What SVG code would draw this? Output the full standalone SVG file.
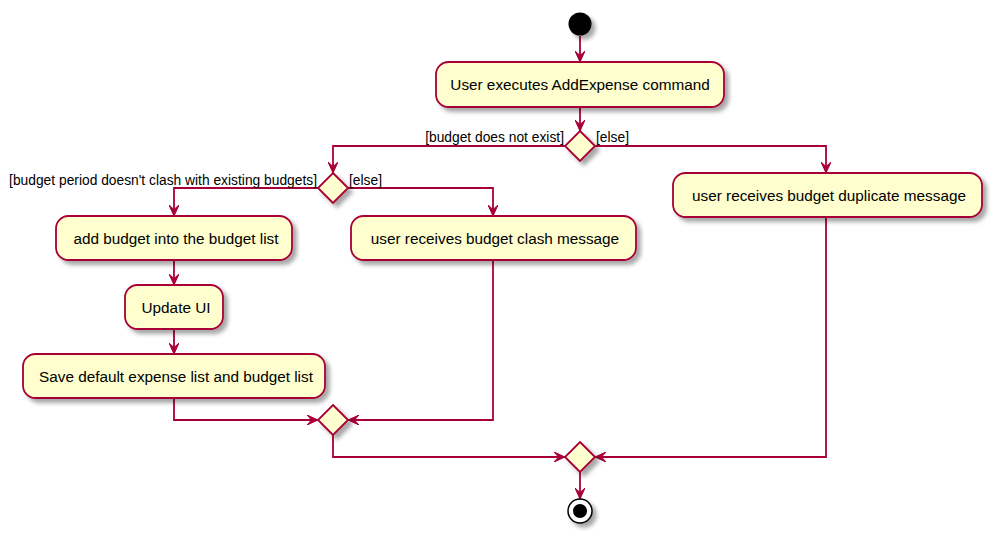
<svg xmlns="http://www.w3.org/2000/svg" width="993" height="537" viewBox="0 0 993 537">
<defs>
<filter id="sh" x="-20%" y="-20%" width="150%" height="160%">
<feGaussianBlur in="SourceAlpha" stdDeviation="2"/>
<feOffset dx="4" dy="4" result="b"/>
<feComponentTransfer><feFuncA type="linear" slope="0.35"/></feComponentTransfer>
<feMerge><feMergeNode/><feMergeNode in="SourceGraphic"/></feMerge>
</filter>
<marker id="ah" viewBox="0 0 12 10" refX="11" refY="5" markerWidth="12" markerHeight="10" markerUnits="userSpaceOnUse" orient="auto">
<polygon points="0,0 11,5 0,10 4.5,5" fill="#A80036" stroke="#A80036" stroke-width="1"/>
</marker>
</defs>
<style>
.act{fill:#FEFECE;stroke:#A80036;stroke-width:1.8;filter:url(#sh)}
.dia{fill:#FEFECE;stroke:#A80036;stroke-width:1.8;filter:url(#sh)}
.t{font-family:"Liberation Sans",Arial,sans-serif;font-size:15.3px;fill:#000;text-anchor:middle}
.c{font-family:"Liberation Sans",Arial,sans-serif;font-size:13.8px;fill:#000}
.ln{fill:none;stroke:#A80036;stroke-width:1.8}
</style>
<rect width="993" height="537" fill="#FFFFFF"/>
<g id="connectors">
<path class="ln" d="M580,36 V62" marker-end="url(#ah)"/>
<path class="ln" d="M580,107 V131" marker-end="url(#ah)"/>
<path class="ln" d="M565,146 H333 V173" marker-end="url(#ah)"/>
<path class="ln" d="M595,146 H826 V173" marker-end="url(#ah)"/>
<path class="ln" d="M318,188 H174 V216" marker-end="url(#ah)"/>
<path class="ln" d="M348,188 H493 V216" marker-end="url(#ah)"/>
<path class="ln" d="M174,260 V285" marker-end="url(#ah)"/>
<path class="ln" d="M174,329 V354" marker-end="url(#ah)"/>
<path class="ln" d="M174,398 V420 H318" marker-end="url(#ah)"/>
<path class="ln" d="M493,260 V420 H348" marker-end="url(#ah)"/>
<path class="ln" d="M333,435 V457 H565" marker-end="url(#ah)"/>
<path class="ln" d="M826,217 V457 H595" marker-end="url(#ah)"/>
<path class="ln" d="M580,472 V499" marker-end="url(#ah)"/>
</g>
<g id="start"><circle cx="580" cy="24" r="11.5" fill="#000" filter="url(#sh)"/></g>
<g id="a1"><rect class="act" x="436" y="62" width="288" height="45" rx="12.5"/><text class="t" x="580" y="90">User executes AddExpense command</text></g>
<g id="d1"><polygon class="dia" points="580,131 595,146 580,161 565,146"/>
<text class="c" x="564" y="142" text-anchor="end">[budget does not exist]</text>
<text class="c" x="596" y="142">[else]</text></g>
<g id="d2"><polygon class="dia" points="333,173 348,188 333,203 318,188"/>
<text class="c" x="317" y="185" text-anchor="end">[budget period doesn't clash with existing budgets]</text>
<text class="c" x="349" y="185">[else]</text></g>
<g id="a2"><rect class="act" x="56" y="216" width="236" height="44" rx="12.5"/><text class="t" x="176" y="244">add budget into the budget list</text></g>
<g id="a3"><rect class="act" x="351" y="216" width="285" height="44" rx="12.5"/><text class="t" x="495" y="244">user receives budget clash message</text></g>
<g id="a4"><rect class="act" x="673" y="173" width="309" height="44" rx="12.5"/><text class="t" x="829" y="201">user receives budget duplicate message</text></g>
<g id="a5"><rect class="act" x="125" y="285" width="98" height="44" rx="12.5"/><text class="t" x="176" y="313">Update UI</text></g>
<g id="a6"><rect class="act" x="23" y="354" width="302" height="44" rx="12.5"/><text class="t" x="176" y="382">Save default expense list and budget list</text></g>
<g id="m1"><polygon class="dia" points="333,405 348,420 333,435 318,420"/></g>
<g id="m2"><polygon class="dia" points="580,442 595,457 580,472 565,457"/></g>
<g id="end"><circle cx="580" cy="511" r="12" fill="#FFF" stroke="#000" stroke-width="1.5" filter="url(#sh)"/><circle cx="580" cy="511" r="7" fill="#000"/></g>
</svg>
